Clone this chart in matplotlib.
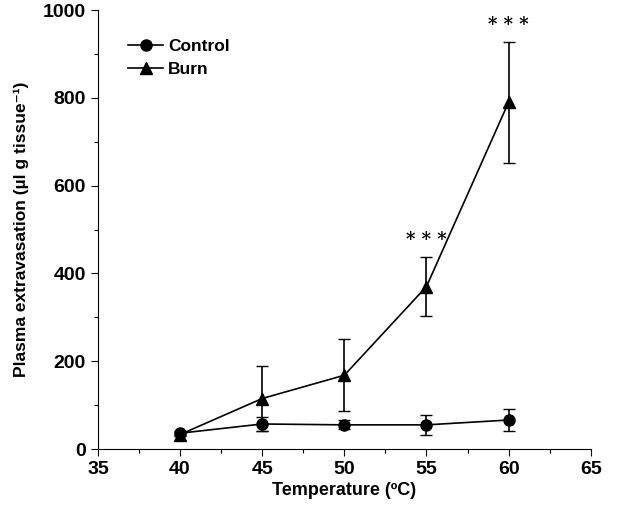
import matplotlib
matplotlib.use("Agg")
from matplotlib import pyplot as plt
import matplotlib.ticker as ticker
from matplotlib.lines import Line2D

plt.rcParams['font.family'] = ['Liberation Sans', 'DejaVu Sans']
plt.rcParams['font.weight'] = 'bold'

temps = [40, 45, 50, 55, 60]
control = [36, 57, 55, 55, 66]
control_err = [5, 15, 10, 22, 25]
burn = [33, 115, 168, 370, 790]
burn_err = [4, 73, 82, 67, 138]
star_temps = [55, 60]
star_y = [476, 966]

fig = plt.figure(figsize=(6.4, 5.27), dpi=100)
ax = fig.add_axes([0.153, 0.148, 0.770, 0.833])

ax.errorbar(temps, control, yerr=control_err, color='black', marker='o', markersize=8,
            linewidth=1.2, elinewidth=1.2, capsize=4)
ax.errorbar(temps, burn, yerr=burn_err, color='black', marker='^', markersize=9,
            linewidth=1.2, elinewidth=1.2, capsize=4)

for t, y in zip(star_temps, star_y):
    ax.text(t, y, '* * *', ha='center', va='center', fontsize=13, fontweight='bold',
            family='DejaVu Serif')

ax.set_xlim(35, 65)
ax.set_ylim(0, 1000)
ax.xaxis.set_major_locator(ticker.MultipleLocator(5))
ax.xaxis.set_minor_locator(ticker.MultipleLocator(2.5))
ax.yaxis.set_major_locator(ticker.MultipleLocator(200))
ax.yaxis.set_minor_locator(ticker.MultipleLocator(100))
ax.tick_params(which='both', direction='out', labelsize=14, width=0.8)
ax.tick_params(which='major', length=5)
ax.tick_params(which='minor', length=3)
ax.spines['top'].set_visible(False)
ax.spines['right'].set_visible(False)
for lbl in ax.get_xticklabels() + ax.get_yticklabels():
    lbl.set_fontweight('bold')

ax.set_xlabel('Temperature (\u00baC)', fontsize=13, fontweight='bold', labelpad=3)
ax.set_ylabel('Plasma extravasation (\u00b5l g tissue\u207b\u00b9)', fontsize=12.5,
              fontweight='bold', labelpad=10)

handles = [Line2D([], [], color='black', marker='o', markersize=8, linewidth=1.2),
           Line2D([], [], color='black', marker='^', markersize=9, linewidth=1.2)]
ax.legend(handles, ['Control', 'Burn'], loc='upper left', bbox_to_anchor=(0.03, 0.97),
          frameon=False, prop={'size': 12.5, 'weight': 'bold'},
          handlelength=2.0, handletextpad=0.3, labelspacing=0.45)

fig.savefig('out.png', dpi=100)
